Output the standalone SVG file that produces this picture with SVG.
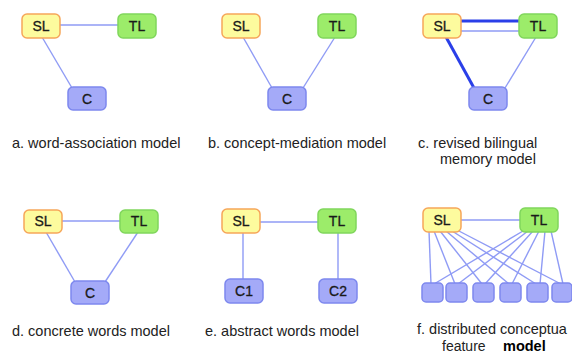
<svg xmlns="http://www.w3.org/2000/svg" width="572" height="354" viewBox="0 0 572 354">
<defs>
<style>
.sl{fill:#fdfb9e;stroke:#f6a65a;stroke-width:1.5}
.tl{fill:#9cec6a;stroke:#80d65c;stroke-width:1.5}
.c{fill:#a4aaf8;stroke:#7d88ee;stroke-width:1.5}
.nt{font-family:"Liberation Sans",Arial,sans-serif;font-size:14px;fill:#1a1a1a;stroke:#1a1a1a;stroke-width:0.3;text-anchor:middle}
.lb{font-family:"Liberation Sans",Arial,sans-serif;font-size:14.5px;fill:#222}
.ln{stroke:#8f9bf5;stroke-width:1.4;fill:none}
.thick{stroke:#2a3fe8;stroke-width:3;fill:none}
</style>
</defs>
<rect width="572" height="354" fill="#ffffff"/>
<g id="connectors">
<line class="ln" x1="58" y1="25" x2="120" y2="25"/>
<line class="ln" x1="42" y1="37" x2="72" y2="88"/>
<line class="ln" x1="243" y1="37" x2="272" y2="88"/>
<line class="ln" x1="335" y1="37" x2="303" y2="88"/>
<line class="thick" x1="458" y1="21" x2="521" y2="21"/>
<line class="ln" x1="458" y1="31" x2="521" y2="31"/>
<line class="thick" x1="446" y1="37" x2="474" y2="88"/>
<line class="ln" x1="536" y1="37" x2="505" y2="88"/>
<line class="ln" x1="60" y1="221" x2="122" y2="221"/>
<line class="ln" x1="46" y1="232" x2="75" y2="282"/>
<line class="ln" x1="138" y1="232" x2="105" y2="282"/>
<line class="ln" x1="257" y1="222" x2="320" y2="222"/>
<line class="ln" x1="243" y1="232" x2="243" y2="280"/>
<line class="ln" x1="338" y1="232" x2="338" y2="280"/>
<line class="ln" x1="458" y1="220" x2="522" y2="220"/>
<line class="ln" x1="429" y1="231" x2="431" y2="284"/>
<line class="ln" x1="434" y1="231" x2="455" y2="284"/>
<line class="ln" x1="440" y1="231" x2="482" y2="284"/>
<line class="ln" x1="446" y1="231" x2="509" y2="284"/>
<line class="ln" x1="452" y1="231" x2="536" y2="284"/>
<line class="ln" x1="457" y1="230" x2="561" y2="284"/>
<line class="ln" x1="523" y1="231" x2="434" y2="284"/>
<line class="ln" x1="528" y1="231" x2="458" y2="284"/>
<line class="ln" x1="533" y1="231" x2="485" y2="284"/>
<line class="ln" x1="539" y1="231" x2="512" y2="284"/>
<line class="ln" x1="545" y1="231" x2="540" y2="284"/>
<line class="ln" x1="551" y1="231" x2="563" y2="284"/>
</g>
<g id="a-SL"><rect class="sl" x="22" y="14" width="38" height="24" rx="5"/><text class="nt" x="41" y="31">SL</text></g>
<g id="a-TL"><rect class="tl" x="118" y="14" width="38" height="24" rx="5"/><text class="nt" x="137" y="31">TL</text></g>
<g id="a-C"><rect class="c" x="68" y="87" width="38" height="23" rx="5"/><text class="nt" x="87" y="104">C</text></g>
<g id="b-SL"><rect class="sl" x="222" y="14" width="38" height="24" rx="5"/><text class="nt" x="241" y="31">SL</text></g>
<g id="b-TL"><rect class="tl" x="318" y="14" width="38" height="24" rx="5"/><text class="nt" x="337" y="31">TL</text></g>
<g id="b-C"><rect class="c" x="268" y="87" width="38" height="23" rx="5"/><text class="nt" x="287" y="104">C</text></g>
<g id="c-SL"><rect class="sl" x="423" y="14" width="38" height="24" rx="5"/><text class="nt" x="442" y="31">SL</text></g>
<g id="c-TL"><rect class="tl" x="519" y="14" width="38" height="24" rx="5"/><text class="nt" x="538" y="31">TL</text></g>
<g id="c-C"><rect class="c" x="469" y="87" width="38" height="23" rx="5"/><text class="nt" x="488" y="104">C</text></g>
<g id="d-SL"><rect class="sl" x="24" y="210" width="38" height="23" rx="5"/><text class="nt" x="43" y="226">SL</text></g>
<g id="d-TL"><rect class="tl" x="120" y="210" width="38" height="23" rx="5"/><text class="nt" x="139" y="226">TL</text></g>
<g id="d-C"><rect class="c" x="71" y="281" width="38" height="23" rx="5"/><text class="nt" x="90" y="298">C</text></g>
<g id="e-SL"><rect class="sl" x="222" y="209" width="38" height="24" rx="5"/><text class="nt" x="241" y="226">SL</text></g>
<g id="e-TL"><rect class="tl" x="318" y="209" width="38" height="24" rx="5"/><text class="nt" x="337" y="226">TL</text></g>
<g id="e-C1"><rect class="c" x="225" y="279" width="38" height="24" rx="5"/><text class="nt" x="244" y="296">C1</text></g>
<g id="e-C2"><rect class="c" x="319" y="279" width="38" height="24" rx="5"/><text class="nt" x="338" y="296">C2</text></g>
<g id="f-SL"><rect class="sl" x="423" y="208" width="38" height="24" rx="5"/><text class="nt" x="442" y="225">SL</text></g>
<g id="f-TL"><rect class="tl" x="520" y="208" width="38" height="24" rx="5"/><text class="nt" x="539" y="225">TL</text></g>
<g id="f-F1"><rect class="c" x="422" y="283" width="21" height="19" rx="4"/></g>
<g id="f-F2"><rect class="c" x="446" y="283" width="21" height="19" rx="4"/></g>
<g id="f-F3"><rect class="c" x="473" y="283" width="21" height="19" rx="4"/></g>
<g id="f-F4"><rect class="c" x="500" y="283" width="21" height="19" rx="4"/></g>
<g id="f-F5"><rect class="c" x="527" y="283" width="21" height="19" rx="4"/></g>
<g id="f-F6"><rect class="c" x="552" y="283" width="20" height="19" rx="4"/></g>
<g id="labels">
<text class="lb" x="12" y="148">a. word-association model</text>
<text class="lb" x="208" y="148">b. concept-mediation model</text>
<text class="lb" x="418" y="148">c. revised bilingual</text>
<text class="lb" x="440" y="164">memory model</text>
<text class="lb" x="12" y="336">d. concrete words model</text>
<text class="lb" x="205" y="336">e. abstract words model</text>
<text class="lb" x="417" y="334">f. distributed conceptua</text>
<text class="lb" x="442" y="350.5" style="font-size:14px">feature</text>
<text class="lb" x="503" y="350.5" style="font-weight:bold;font-size:14.5px;fill:#000">model</text>
</g>
</svg>
